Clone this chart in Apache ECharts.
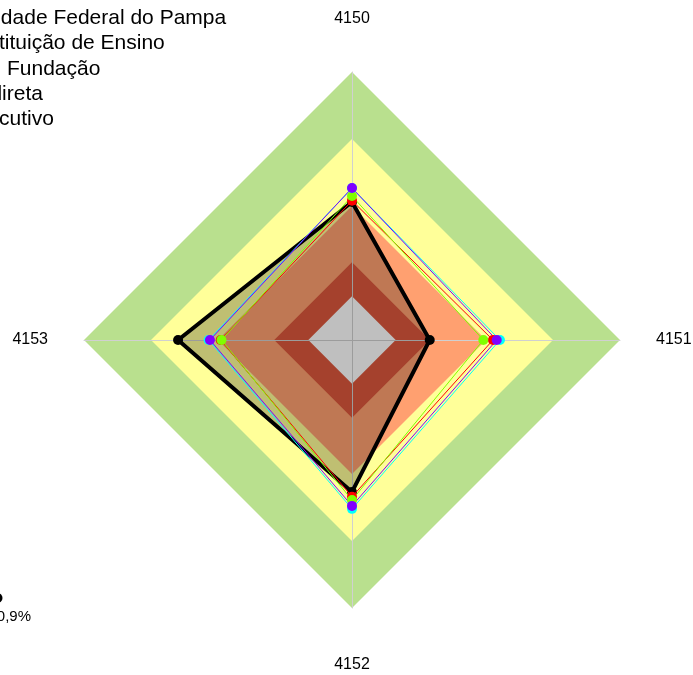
<!DOCTYPE html>
<html>
<head>
<meta charset="utf-8">
<script src="https://cdn.jsdelivr.net/npm/echarts@6/dist/echarts.min.js"></script>
<style>
html, body { margin: 0; padding: 0; background: #fff; }
#main { width: 693px; height: 675px; }
</style>
</head>
<body>
<div id="main"></div>
<script>
// axes, in the order 4150 (top), 4151 (right), 4152 (bottom), 4153 (left)
var categories = ['4150', '4151', '4152', '4153'];

var seriesNames = [
    'Universidade Federal do Pampa',
    'Instituição de Ensino',
    'Fundação',
    'Administração Indireta',
    'Poder Executivo'
];
var unipampa   = [0.515, 0.29, 0.567, 0.649];
var instituicao = [0.52, 0.526, 0.585, 0.49];
var fundacao   = [0.537, 0.49, 0.597, 0.487];
var indireta   = [0.567, 0.552, 0.63, 0.535];
var executivo  = [0.567, 0.54, 0.619, 0.53];

// background bands (outer to inner)
var bandLevels = [1, 0.75, 0.5, 0.29, 0.163];
var bandColors = ['#b9e08e', '#ffff99', '#ffa070', '#dc573c', '#ffffff'];

var footnote = '80,9%';

// echarts goes round counter-clockwise from the top
var order = [0, 3, 2, 1];
function arrange(arr) {
    return order.map(function (i) { return arr[i]; });
}

var myChart = echarts.init(document.getElementById('main'));

var series = [];
bandLevels.forEach(function (lvl, k) {
    series.push({
        type: 'radar',
        silent: true,
        z: 0,
        symbol: 'none',
        lineStyle: { width: 0 },
        areaStyle: { color: bandColors[k], opacity: 1 },
        data: [{ value: [lvl, lvl, lvl, lvl] }]
    });
});

series.push({
    name: seriesNames[0],
    type: 'radar',
    z: 2,
    symbol: 'circle',
    symbolSize: 10,
    itemStyle: { color: '#000' },
    lineStyle: { color: '#000', width: 4 },
    areaStyle: { color: '#000', opacity: 0.25 },
    data: [{ value: arrange(unipampa), name: seriesNames[0] }]
});

var others = [instituicao, fundacao, indireta, executivo];
var otherColors = ['#ff0000', '#80ff00', '#00ffff', '#8000ff'];
others.forEach(function (vals, k) {
    series.push({
        name: seriesNames[k + 1],
        type: 'radar',
        z: 3,
        symbol: 'circle',
        symbolSize: 10,
        itemStyle: { color: otherColors[k] },
        lineStyle: { color: otherColors[k], width: 1 },
        data: [{ value: arrange(vals), name: seriesNames[k + 1] }]
    });
});

// legend lines, cut at the left edge like in the original
var legendX = [-75, -29, 7, -166, -99];
var graphics = [];
seriesNames.forEach(function (n, k) {
    graphics.push({
        type: 'text',
        x: legendX[k],
        y: 18.5 + k * 25.2,
        style: {
            text: n,
            fontSize: 21,
            fontFamily: '"Liberation Sans", Arial',
            fill: '#000',
            align: 'left',
            verticalAlign: 'middle'
        }
    });
});
graphics.push({
    type: 'circle',
    shape: { cx: -2.5, cy: 598, r: 5 },
    style: { fill: '#000' }
});
graphics.push({
    type: 'text',
    x: 31,
    y: 617,
    style: {
        text: footnote,
        fontSize: 15,
        fontFamily: '"Liberation Sans", Arial',
        fill: '#000',
        align: 'right',
        verticalAlign: 'middle'
    }
});

var option = {
    animation: false,
    backgroundColor: '#fff',
    radar: {
        z: 1,
        center: [352, 340],
        radius: 268,
        startAngle: 90,
        shape: 'polygon',
        nameGap: 36,
        indicator: arrange(categories).map(function (c) {
            return { name: c, min: 0, max: 1 };
        }),
        axisName: {
            color: '#000',
            fontSize: 16,
            fontFamily: '"Liberation Sans", Arial',
            formatter: function (name) {
                if (name === '4150') return '{t|' + name + '}';
                if (name === '4152') return '{b|' + name + '}';
                return name;
            },
            rich: {
                t: { fontSize: 16, color: '#000', padding: [0, 0, 9, 0] },
                b: { fontSize: 16, color: '#000', padding: [13, 0, 0, 0] }
            }
        },
        axisLine: { lineStyle: { color: '#d0d0d0', width: 1 } },
        axisTick: { show: false },
        axisLabel: { show: false },
        splitLine: { show: false },
        splitArea: { show: false }
    },
    graphic: graphics,
    series: series
};

myChart.setOption(option);
</script>
</body>
</html>
